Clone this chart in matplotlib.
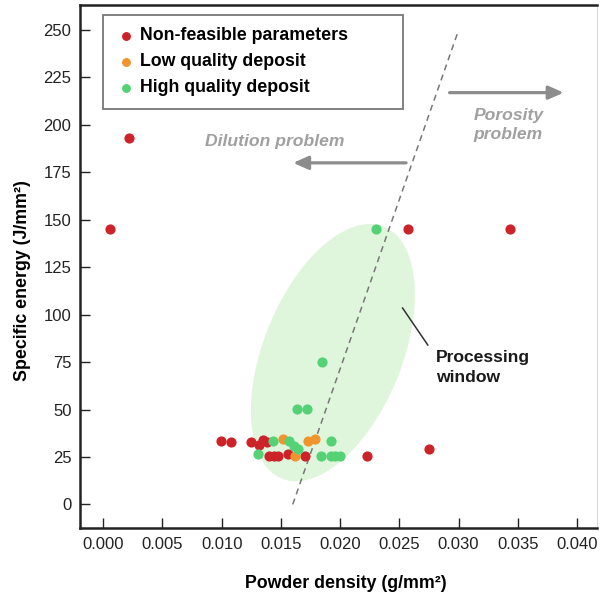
import numpy as np
import matplotlib.pyplot as plt
from matplotlib.patches import Polygon

plt.rcParams['font.family'] = ['Liberation Sans', 'DejaVu Sans']

# powder density (g/mm2) and specific energy (J/mm2) for each class
red_x = [0.00058, 0.0022, 0.0257, 0.0343, 0.0275, 0.0223,
         0.00994, 0.01076, 0.01244, 0.01317, 0.01351, 0.0138,
         0.0140, 0.01441, 0.01478, 0.01562, 0.01703]
red_y = [145, 193, 145, 145, 29, 25.5,
         33.5, 33, 33, 31.5, 34, 33,
         25.5, 25.5, 25.5, 26.5, 25.5]

orange_x = [0.01514, 0.01618, 0.01725, 0.01785]
orange_y = [34.5, 25.5, 33.5, 34.5]

green_x = [0.0230, 0.01848, 0.01633, 0.01723, 0.01304, 0.0143,
           0.0157, 0.0161, 0.01647, 0.01835, 0.0192, 0.0192,
           0.01956, 0.01998]
green_y = [145, 75, 50.5, 50.5, 26.5, 33.5,
           33.5, 31, 29, 25.5, 33.5, 25.5,
           25.5, 25.5]

red = '#cc2329'
orange = '#f0952c'
green = '#55d176'

fig = plt.figure(figsize=(6, 5.99), dpi=100)
ax = fig.add_axes([0.133, 0.118, 0.862, 0.874])

# processing window (tilted ellipse drawn in data units)
t = np.linspace(0, 2 * np.pi, 200)
cx, cy = 0.01939, 80
ux, uy = 0.00692, 30.6
vx, vy = 0.0, 60.5
ell = np.column_stack([cx + ux * np.cos(t) + vx * np.sin(t),
                       cy + uy * np.cos(t) + vy * np.sin(t)])
ax.add_patch(Polygon(ell, closed=True, facecolor='#e0f6dc', edgecolor='none', zorder=1))

# boundary line
ax.plot([0.016, 0.030], [0, 250], ls=(0, (4, 3)), color='#777777', lw=1.1, zorder=2)

ax.scatter(red_x, red_y, s=40, color=red, zorder=3, label='Non-feasible parameters')
ax.scatter(orange_x, orange_y, s=40, color=orange, zorder=3, label='Low quality deposit')
ax.scatter(green_x, green_y, s=40, color=green, zorder=3, label='High quality deposit')

# arrows and notes
arrow = dict(arrowstyle='-|>,head_length=0.9,head_width=0.4', color='#8c8c8c', lw=2.3)
ax.annotate('', xy=(0.0158, 180), xytext=(0.0258, 180), arrowprops=arrow)
ax.text(0.0145, 191, 'Dilution problem', color='#a0a0a0', fontsize=12.6,
        fontweight='bold', style='italic', ha='center', va='center')
ax.annotate('', xy=(0.0391, 217), xytext=(0.0290, 217), arrowprops=arrow)
ax.text(0.0342, 200, 'Porosity\nproblem', color='#a0a0a0', fontsize=12.6,
        fontweight='bold', style='italic', ha='center', va='center', linespacing=1.35)
ax.plot([0.02527, 0.0274], [103.5, 84], color='#333333', lw=1.1)
ax.text(0.0281, 72, 'Processing\nwindow', color='#1a1a1a', fontsize=12.6,
        fontweight='bold', ha='left', va='center', linespacing=1.4)

ax.set_xlim(-0.00197, 0.04168)
ax.set_ylim(-12.6, 263.3)
ax.set_xticks(np.arange(0, 0.0401, 0.005))
ax.set_xticklabels(['%.3f' % v for v in np.arange(0, 0.0401, 0.005)])
ax.set_yticks(np.arange(0, 251, 25))
ax.tick_params(direction='in', length=7, width=1, labelsize=12, colors='#222222', pad=6)

for side in ['left', 'bottom', 'top']:
    ax.spines[side].set_linewidth(1.8)
    ax.spines[side].set_color('#222222')
ax.spines['right'].set_color('#dddddd')

ax.set_xlabel('Powder density (g/mm²)', fontsize=12.8, fontweight='bold')
ax.set_ylabel('Specific energy (J/mm²)', fontsize=12.8, fontweight='bold')
ax.xaxis.set_label_coords(0.5145, -0.09)
ax.yaxis.set_label_coords(-0.095, 0.473)

leg = ax.legend(loc='upper left', bbox_to_anchor=(0.0445, 0.9805, 0.5805, 0.0), mode='expand',
                fancybox=False, frameon=True, prop={'weight': 'bold', 'size': 12.8},
                markerscale=0.85, handletextpad=0.2, borderpad=0.7, labelspacing=0.5,
                handlelength=1.2, borderaxespad=0)
leg.get_frame().set_edgecolor('#555555')
leg.get_frame().set_linewidth(1.3)

plt.savefig('out.png', dpi=100)
